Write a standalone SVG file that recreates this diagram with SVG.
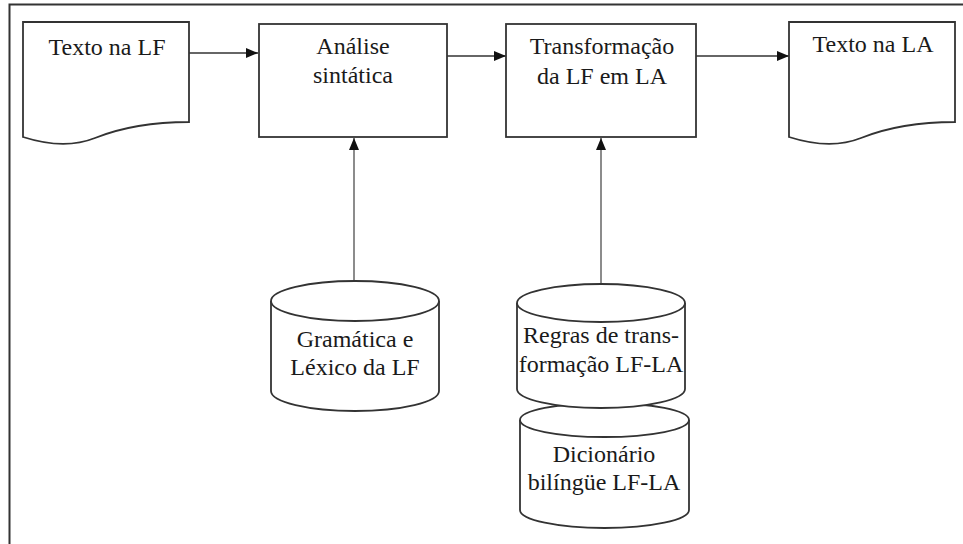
<svg xmlns="http://www.w3.org/2000/svg" width="963" height="544" viewBox="0 0 963 544">
<style>
.shape{fill:#fff;stroke:#333;stroke-width:1.8}
.conn{stroke:#333;stroke-width:1.5;fill:none}
.vconn{stroke:#666;stroke-width:1.5;fill:none}
.t{font-family:"Liberation Serif","Times New Roman",serif;font-size:24px;fill:#1a1a1a;text-anchor:middle}
</style>
<defs>
<marker id="ah" markerWidth="12" markerHeight="10" refX="12" refY="5" orient="auto" markerUnits="userSpaceOnUse">
<path d="M0,0 L12,5 L0,10 Z" fill="#111"/>
</marker>
</defs>
<rect x="0" y="0" width="963" height="544" fill="#fff"/>
<path d="M9.5,544 V4.5 H963" fill="none" stroke="#333" stroke-width="2"/>
<g id="connectors">
<line class="conn" x1="189" y1="53" x2="258" y2="53" marker-end="url(#ah)"/>
<line class="conn" x1="447" y1="56" x2="506" y2="56" marker-end="url(#ah)"/>
<line class="conn" x1="696" y1="56" x2="789" y2="56" marker-end="url(#ah)"/>
<line class="vconn" x1="354" y1="281" x2="354" y2="138" marker-end="url(#ah)"/>
<line class="vconn" x1="601" y1="284" x2="601" y2="138" marker-end="url(#ah)"/>
</g>
<g id="texto-lf">
<path class="shape" d="M23,22 H189 V122 C150,122 120,128 95,138 C70,148 45,144 23,137 Z"/>
<text class="t" x="107" y="55">Texto na LF</text>
</g>
<g id="analise">
<rect class="shape" x="259" y="24" width="188" height="113"/>
<text class="t" x="353" y="54">Análise</text>
<text class="t" x="353" y="83">sintática</text>
</g>
<g id="transformacao">
<rect class="shape" x="506" y="24" width="190" height="113"/>
<text class="t" x="602" y="54">Transformação</text>
<text class="t" x="602" y="84">da LF em LA</text>
</g>
<g id="texto-la">
<path class="shape" d="M789,22 H955 V122 C916,122 886,128 861,138 C836,148 811,144 789,137 Z"/>
<text class="t" x="873" y="52">Texto na LA</text>
</g>
<g id="gramatica">
<path class="shape" d="M271,301 V391 A84,20 0 0 0 439,391 V301"/>
<ellipse class="shape" cx="355" cy="301" rx="84" ry="20"/>
<text class="t" x="355" y="347">Gramática e</text>
<text class="t" x="355" y="375">Léxico da LF</text>
</g>
<g id="dicionario">
<path class="shape" d="M520,420 V510 A84.5,18 0 0 0 689,510 V420"/>
<ellipse class="shape" cx="604.5" cy="420" rx="84.5" ry="17"/>
<text class="t" x="604" y="462">Dicionário</text>
<text class="t" x="604" y="490">bilíngüe LF-LA</text>
</g>
<g id="regras">
<path class="shape" d="M517,303 V389 A84,19 0 0 0 685,389 V303"/>
<ellipse class="shape" cx="601" cy="303" rx="84" ry="19"/>
<text class="t" x="601" y="343">Regras de trans-</text>
<text class="t" x="601" y="372">formação LF-LA</text>
</g>
</svg>
